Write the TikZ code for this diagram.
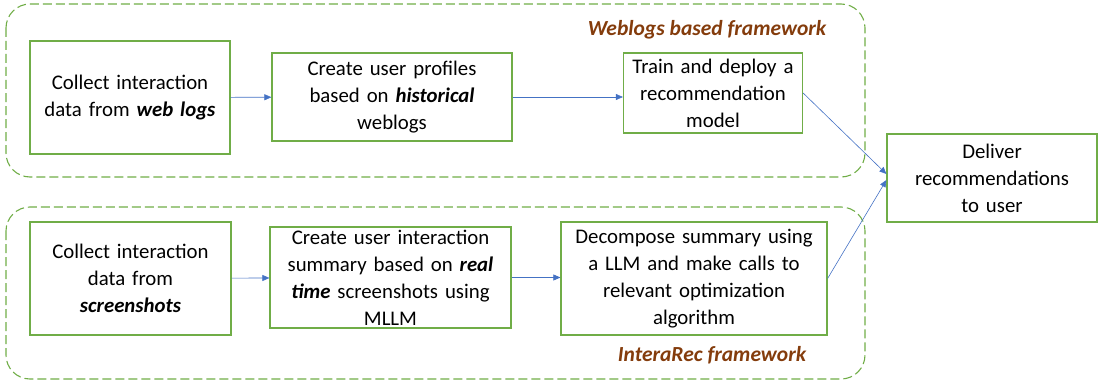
\documentclass[tikz,border=0pt]{standalone}
\usepackage{fontspec}
\setmainfont{Carlito}
\usepackage{tikz}
\usetikzlibrary{arrows.meta}
\definecolor{boxgreen}{RGB}{112,173,71}
\definecolor{arrowblue}{RGB}{68,114,196}
\definecolor{labelbrown}{RGB}{132,60,12}

\begin{document}
\begin{tikzpicture}[x=1pt,y=1pt,node distance=262pt,
  stepbox/.style={draw=boxgreen,line width=1.2pt,rectangle,align=center,inner xsep=4pt,inner ysep=0pt,font=\fontsize{20.8}{27}\selectfont},
  frame/.style={draw=boxgreen,line width=1.1pt,dash pattern=on 9pt off 4pt,rounded corners=24pt},
  flow/.style={draw=arrowblue,line width=0.6pt,-{Triangle[length=7pt,width=6pt]}},
  title/.style={text=labelbrown,font=\fontsize{21.5}{24}\selectfont\bfseries\itshape}]

\useasboundingbox (0,0) rectangle (1099,381);
\draw[frame] (6,377) rectangle (865,204);
\draw[frame] (6,174) rectangle (865,2);

\node[stepbox,text width=192pt,minimum height=113pt] (weblogs) at (130,283.5) {Collect interaction\\data from \textbf{\textit{web logs}}};
\node[stepbox,text width=232pt,minimum height=88pt,right of=weblogs,yshift=0.5pt] (profiles) {Create user profiles\\based on \textbf{\textit{historical}}\\weblogs};
\node[stepbox,text width=171pt,minimum height=80pt,right of=profiles,xshift=59pt,yshift=4pt] (model) {Train and deploy a\\recommendation\\model};
\node[stepbox,text width=202pt,minimum height=88pt] (deliver) at (992,203) {Deliver\\recommendations\\to user};

\node[stepbox,text width=193pt,minimum height=113pt] (screens) at (130.5,102.5) {Collect interaction\\data from\\\textbf{\textit{screenshots}}};
\node[stepbox,text width=233pt,minimum height=101pt,right of=screens,xshift=-2pt,yshift=1pt] (summary) {Create user interaction\\summary based on \textbf{\textit{real}}\\\textbf{\textit{time}} screenshots using\\MLLM};
\node[stepbox,text width=258pt,minimum height=113pt,right of=summary,xshift=41.5pt,yshift=-1pt] (decompose) {Decompose summary using\\a LLM and make calls to\\relevant optimization\\algorithm};

\node[title] (webtitle) at (707,351) {Weblogs based framework};
\node[title] (intitle) at (712,26) {InteraRec framework};

\draw[flow] (weblogs) -- (profiles);
\draw[flow] (profiles.east) -- (profiles.east -| model.west);
\draw[flow] (model.east) -- ([yshift=4pt]deliver.west);
\draw[flow] (screens) -- (summary);
\draw[flow] (summary.east) -- (summary.east -| decompose.west);
\draw[flow] (decompose.east) -- ([yshift=-2pt]deliver.west);
\end{tikzpicture}
\end{document}
